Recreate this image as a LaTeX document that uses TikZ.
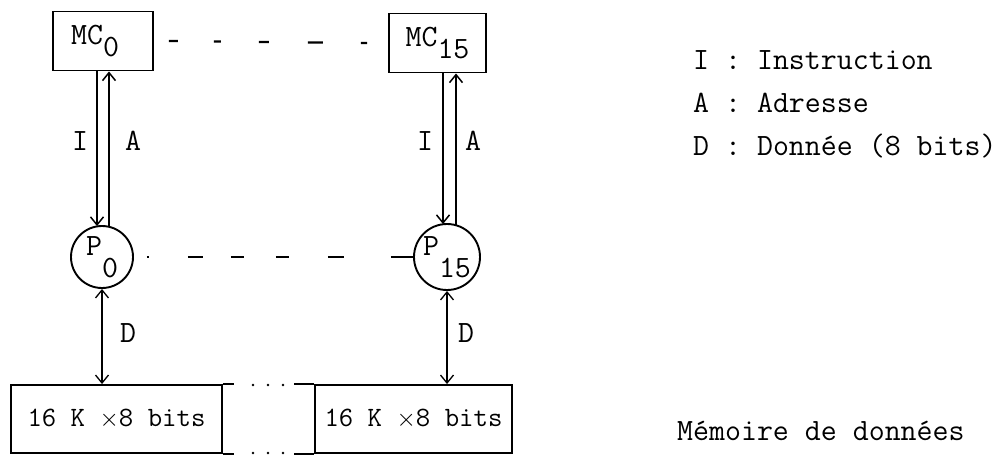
\documentclass[tikz,border=0pt]{standalone}
\usepackage{fontspec}
\usetikzlibrary{arrows.meta}
\begin{document}
\begin{tikzpicture}[x=1pt,y=-1pt,
  every node/.style={font=\ttfamily\fontsize{31}{36}\selectfont},
  mcbox/.style={draw,line width=1.9pt,inner sep=0pt,minimum width=100pt,minimum height=59pt},
  proc/.style={draw,circle,line width=1.9pt,inner sep=0pt,minimum size=64pt},
  membox/.style={draw,line width=1.9pt,inner sep=0pt,minimum height=68pt,font=\ttfamily\fontsize{28}{32}\selectfont},
  lbl/.style={inner sep=0pt},
  arr/.style={line width=1.6pt,-{Straight Barb[length=8pt,width=13pt,line width=1.5pt]}},
  darr/.style={line width=1.3pt,{Straight Barb[length=8pt,width=13pt,line width=1.3pt]}-{Straight Barb[length=8pt,width=13pt,line width=1.3pt]}},
  thin/.style={line width=1.9pt}
]
\useasboundingbox (0,0) rectangle (1001,456);

% memory controllers
\node[mcbox] (MC0) at (103,41) {MC\raisebox{-0.4em}{0}\phantom{0}};
\node[mcbox,minimum width=97pt] (MC15) at (437.5,43) {MC\raisebox{-0.4em}{15}};

% processors
\node[proc,minimum size=62pt] (P0) at (102,257) {P\raisebox{-0.7em}{0}};
\node[proc,minimum size=66pt] (P15) at (447,257) {P\raisebox{-0.7em}{15}};

% memory banks
\node[membox,minimum width=211pt] (M0) at (116.5,419) {16 K $\times$8 bits};
\node[membox,minimum width=197pt] (M15) at (413.5,419) {16 K $\times$8 bits};

% dashed links
\draw[line width=2.2pt,dash pattern=on 9pt off 36pt on 7pt off 38pt on 10pt off 39pt on 15pt off 38pt on 8pt off 30pt]
  ([xshift=15pt]MC0.east) -- ([xshift=-21pt]MC15.west);
\draw[line width=2.2pt,dash pattern=on 2pt off 39pt on 15pt off 28pt on 13pt off 32pt on 13pt off 39pt on 16pt off 47pt on 30pt]
  ([xshift=13pt]P0.east) -- (P15.west);

% I / A arrows
\draw[arr] ([xshift=-6pt]MC0.south) -- ([xshift=-5pt,yshift=-1pt]P0.north);
\draw[arr] ([xshift=7pt,yshift=-1pt]P0.north) -- ([xshift=6pt]MC0.south);
\draw[arr] ([xshift=5.5pt]MC15.south) -- ([xshift=-4pt,yshift=-1pt]P15.north);
\draw[arr] ([xshift=9pt,yshift=-2pt]P15.north) -- ([xshift=18.5pt]MC15.south);

\node[lbl] (I0) at (80,141) {I};
\node[lbl] (A0) at (133,141) {A};
\node[lbl] (I15) at (425,141) {I};
\node[lbl] (A15) at (473,141) {A};

% D arrows
\draw[darr] (P0.south) -- (P0.south |- M0.north);
\draw[darr] (P15.south) -- (P15.south |- M15.north);
\node[lbl] (D0) at (128,333) {D};
\node[lbl] (D15) at (466,333) {D};

% memory strip extensions and dots
\draw[thin] (M0.north east) -- ++(11,0);
\draw[thin] (M0.south east) -- ++(11,0);
\draw[thin] (M15.north west) -- ++(-20,0);
\draw[thin] (M15.south west) -- ++(-20,0);
\foreach \x in {253,268,283} {
  \fill (\x,385) circle (1.4pt);
  \fill (\x,453) circle (1.4pt);
}

% legend
\node[lbl,anchor=west] (LI) at (693,60) {I : Instruction};
\node[lbl,anchor=west] (LA) at (693,103) {A : Adresse};
\node[lbl,anchor=west] (LD) at (693,146) {D : Donnée (8 bits)};
\node[lbl,anchor=west] (LM) at (677,431) {Mémoire de données};
\end{tikzpicture}
\end{document}
